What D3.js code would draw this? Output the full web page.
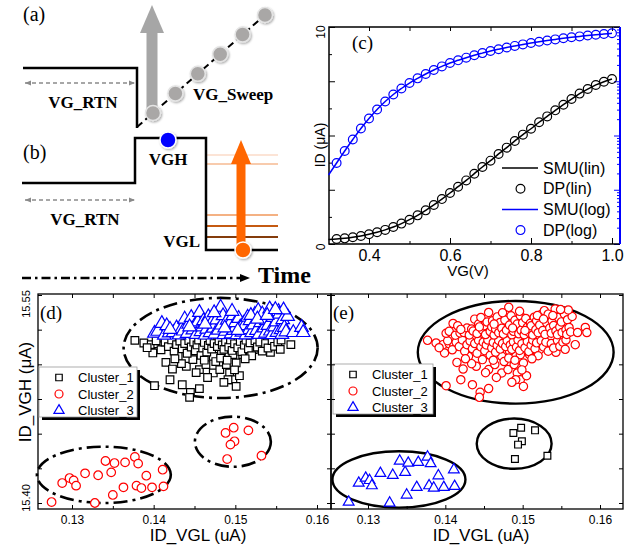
<!DOCTYPE html>
<html lang="en">
<head>
  <meta charset="UTF-8">
  <title>RTN clustering figure</title>
  <style>
    body { margin: 0; background: #fff; }
    svg { display: block; }
  </style>
</head>
<body>
  <div id="chart"></div>
  <script src="https://d3js.org/d3.v7.min.js"></script>
  <script>
// ---------------- data ----------------
// (c) ID-VG sweep, lin and log readings
const vgC = [0.30, 0.32, 0.34, 0.36, 0.38, 0.40, 0.42, 0.44, 0.46, 0.48, 0.50, 0.52,
  0.54, 0.56, 0.58, 0.60, 0.62, 0.64, 0.66, 0.68, 0.70, 0.72, 0.74, 0.76, 0.78, 0.80,
  0.82, 0.84, 0.86, 0.88, 0.90, 0.92, 0.94, 0.96, 0.98, 1.00]
const idLinC = [0.21, 0.23, 0.26, 0.31, 0.37, 0.45, 0.54, 0.65, 0.78, 0.94, 1.12, 1.32,
  1.55, 1.80, 2.07, 2.35, 2.64, 2.93, 3.24, 3.55, 3.84, 4.15, 4.44, 4.75, 5.04, 5.31,
  5.61, 5.88, 6.16, 6.42, 6.68, 6.93, 7.14, 7.33, 7.48, 7.60]
const idLogC = [0.0187, 0.0311, 0.0518, 0.0844, 0.135, 0.206, 0.302, 0.423, 0.570, 0.735,
  0.928, 1.13, 1.36, 1.61, 1.88, 2.17, 2.43, 2.72, 3.01, 3.30, 3.61, 3.90, 4.19, 4.48,
  4.78, 5.07, 5.36, 5.64, 5.91, 6.19, 6.46, 6.71, 6.97, 7.21, 7.43, 7.65]
const legendC = ['SMU(lin)', 'DP(lin)', 'SMU(log)', 'DP(log)']
const xTicksC = [0.4, 0.6, 0.8, 1.0]
const xMinorC = [0.3, 0.5, 0.7, 0.9]
const yTicksC = [0, 2.5, 5, 7.5, 10]
const yMinorC = [1.25, 3.75, 6.25, 8.75]
const yLabelsC = [0, 10]

// (d)/(e) ID_VGL vs ID_VGH points
// big cloud, lower part (Cluster_1 in d)
const cloudLow = [[0.1377,15.5173],[0.1388,15.5154],[0.1397,15.5142],[0.1405,15.5149],[0.1411,15.5135],[0.1399,15.5082],
  [0.1415,15.5014],[0.1423,15.4966],[0.1420,15.4889],[0.1401,15.4846],[0.1435,15.4853],[0.1445,15.4798],
  [0.1456,15.4825],[0.1444,15.4762],[0.1430,15.5058],[0.1440,15.4986],[0.1448,15.5034],[0.1456,15.4962],
  [0.1464,15.4998],[0.1473,15.4938],[0.1481,15.4962],[0.1489,15.4998],[0.1493,15.4938],[0.1497,15.4889],
  [0.1491,15.4889],[0.1501,15.4841],[0.1505,15.4918],[0.1473,15.5058],[0.1483,15.5094],[0.1497,15.5070],
  [0.1509,15.5070],[0.1522,15.5106],[0.1534,15.5130],[0.1542,15.5142],[0.1543,15.5087],[0.1568,15.5142],
  [0.1392,15.5120],[0.1403,15.5170],[0.1409,15.5105],[0.1414,15.5160],[0.1418,15.5128],[0.1422,15.5176],
  [0.1425,15.5095],[0.1428,15.5142],[0.1432,15.5168],[0.1435,15.5112],[0.1438,15.5150],[0.1441,15.5080],
  [0.1443,15.5172],[0.1446,15.5125],[0.1449,15.5160],[0.1451,15.5098],[0.1453,15.5140],[0.1455,15.5175],
  [0.1458,15.5065],[0.1460,15.5118],[0.1462,15.5158],[0.1465,15.5088],[0.1467,15.5136],[0.1469,15.5172],
  [0.1471,15.5110],[0.1474,15.5150],[0.1476,15.5020],[0.1478,15.5128],[0.1480,15.5170],[0.1482,15.5045],
  [0.1484,15.5140],[0.1486,15.5108],[0.1488,15.5162],[0.1490,15.5030],[0.1492,15.5125],[0.1494,15.5176],
  [0.1496,15.5100],[0.1499,15.5148],[0.1501,15.5010],[0.1503,15.5120],[0.1506,15.5165],[0.1508,15.5092],
  [0.1511,15.5138],[0.1513,15.5174],[0.1516,15.5112],[0.1518,15.5155],[0.1520,15.5062],[0.1524,15.5170],
  [0.1527,15.5125],[0.1530,15.5160],[0.1533,15.5095],[0.1537,15.5150],[0.1540,15.5118],[0.1545,15.5172],
  [0.1548,15.5130],[0.1552,15.5160],[0.1555,15.5108],[0.1556,15.5175],[0.1434,15.5005],[0.1452,15.4940],
  [0.1466,15.4905],[0.1486,15.4870],[0.1462,15.5030],[0.1426,15.5040],[0.1499,15.4960],[0.1512,15.5040]]
// big cloud, upper part (Cluster_3 in d)
const cloudHigh = [[0.1401,15.5224],[0.1405,15.5238],[0.1410,15.5295],[0.1413,15.5210],[0.1416,15.5278],[0.1419,15.5226],
  [0.1424,15.5229],[0.1428,15.5262],[0.1431,15.5212],[0.1434,15.5254],[0.1436,15.5240],[0.1438,15.5326],
  [0.1441,15.5222],[0.1443,15.5290],[0.1446,15.5338],[0.1448,15.5248],[0.1450,15.5278],[0.1452,15.5215],
  [0.1454,15.5305],[0.1456,15.5374],[0.1458,15.5236],[0.1460,15.5270],[0.1461,15.5314],[0.1463,15.5211],
  [0.1465,15.5254],[0.1467,15.5342],[0.1469,15.5228],[0.1471,15.5302],[0.1473,15.5260],[0.1475,15.5218],
  [0.1477,15.5320],[0.1479,15.5246],[0.1482,15.5411],[0.1483,15.5283],[0.1485,15.5350],[0.1486,15.5213],
  [0.1488,15.5238],[0.1490,15.5318],[0.1491,15.5264],[0.1493,15.5290],[0.1495,15.5220],[0.1497,15.5350],
  [0.1498,15.5245],[0.1500,15.5300],[0.1502,15.5214],[0.1504,15.5331],[0.1506,15.5268],[0.1508,15.5232],
  [0.1510,15.5296],[0.1511,15.5278],[0.1513,15.5212],[0.1515,15.5340],[0.1517,15.5250],[0.1518,15.5314],
  [0.1520,15.5228],[0.1522,15.5284],[0.1524,15.5360],[0.1526,15.5244],[0.1528,15.5387],[0.1529,15.5216],
  [0.1531,15.5300],[0.1533,15.5362],[0.1535,15.5262],[0.1537,15.5225],[0.1538,15.5314],[0.1540,15.5280],
  [0.1542,15.5399],[0.1543,15.5240],[0.1545,15.5214],[0.1546,15.5338],[0.1548,15.5270],[0.1550,15.5306],
  [0.1551,15.5230],[0.1553,15.5380],[0.1554,15.5362],[0.1556,15.5250],[0.1557,15.5216],[0.1558,15.5322],
  [0.1560,15.5266],[0.1562,15.5234],[0.1564,15.5345],[0.1571,15.5229],[0.1581,15.5266],[0.1583,15.5229],
  [0.1444,15.5270],[0.1474,15.5372],[0.1496,15.5382],[0.1519,15.5352],[0.1503,15.5244],[0.1487,15.5262],
  [0.1463,15.5290],[0.1527,15.5326],[0.1539,15.5352],[0.1420,15.5252],[0.1559,15.5392],[0.1549,15.5395]]
// small group at right-middle
const groupMid = [[0.1488,15.4505],[0.1498,15.4543],[0.1516,15.4524],[0.1499,15.4445],
  [0.1494,15.4421],[0.1490,15.4317],[0.1532,15.4341]]
// small group at lower-left
const groupLow = [[0.1275,15.4007],[0.1288,15.4144],[0.1297,15.4180],[0.1302,15.4163],[0.1305,15.4125],
  [0.1316,15.4214],[0.1328,15.4000],[0.1332,15.4200],[0.1341,15.4303],[0.1348,15.4221],[0.1352,15.4288],
  [0.1350,15.4058],[0.1363,15.4113],[0.1365,15.4293],[0.1377,15.4332],[0.1381,15.4284],[0.1379,15.4125],
  [0.1385,15.4108],[0.1391,15.4197],[0.1398,15.4113],[0.1411,15.4240],[0.1412,15.4120]]
// ellipses [cx, cy, rx, ry] in data units
const ellipsesD = [[0.1482, 15.5118, 0.01188, 0.0361], [0.1497, 15.4442, 0.00465, 0.0181], [0.1339, 15.4203, 0.0082, 0.0203]]
const ellipsesE = [[0.1491, 15.5087, 0.01266, 0.0370], [0.1489, 15.4428, 0.00484, 0.0181], [0.1340, 15.4170, 0.0086, 0.0203]]
const clusterNames = ['Cluster_1', 'Cluster_2', 'Cluster_3']
const xTicksDE = [0.13, 0.14, 0.15, 0.16]
const xMinorDE = [0.135, 0.145, 0.155]
const yTicksDE = [15.40, 15.425, 15.45, 15.475, 15.50, 15.525, 15.55]
const yLabelsDE = [15.40, 15.55]

// ---------------- setup ----------------
const SANS = '"Liberation Sans", Arial, sans-serif'
const SERIF = '"Liberation Serif", "Times New Roman", serif'

const svg = d3.select('#chart').append('svg')
  .attr('width', 639).attr('height', 545)
  .style('background', '#fff')

const defs = svg.append('defs')
defs.append('filter').attr('id', 'shadow')
  .attr('x', '-30%').attr('y', '-30%').attr('width', '160%').attr('height', '160%')
  .append('feDropShadow').attr('dx', 1).attr('dy', 1.2).attr('stdDeviation', 1)
  .attr('flood-color', '#000').attr('flood-opacity', 0.35)
defs.append('marker').attr('id', 'gray-head')
  .attr('viewBox', '0 0 6 6').attr('refX', 6).attr('refY', 3)
  .attr('markerWidth', 6).attr('markerHeight', 6)
  .attr('markerUnits', 'userSpaceOnUse').attr('orient', 'auto-start-reverse')
  .append('path').attr('d', 'M0,0.5 L6,3 L0,5.5 Z').attr('fill', '#8a8a8a')

function tickGroup(axis, tx, ty, color) {
  const g = svg.append('g').attr('transform', `translate(${tx},${ty})`).call(axis)
  g.select('.domain').remove()
  g.selectAll('line').attr('stroke', color || '#000').attr('stroke-width', 1)
  return g
}

// ---------------- (a) / (b) schematic ----------------
const sch = svg.append('g').attr('fill', 'none')

function label(x, y, txt, size, anchor, bold, font) {
  svg.append('text').attr('x', x).attr('y', y).text(txt)
    .attr('font-family', font || SERIF).attr('font-size', size)
    .attr('font-weight', bold ? 'bold' : 'normal')
    .attr('text-anchor', anchor || 'start')
}

label(23, 21, '(a)', 20)
label(23, 159, '(b)', 20)

// (a) waveform
sch.append('path').attr('d', 'M23,68 H137 V128').attr('stroke', '#000').attr('stroke-width', 2.5)
sch.append('line').attr('x1', 137).attr('y1', 127).attr('x2', 265).attr('y2', 15)
  .attr('stroke', '#000').attr('stroke-width', 2).attr('stroke-dasharray', '7,4')

// gray sweep arrow
sch.append('rect').attr('x', 146.5).attr('y', 30).attr('width', 11).attr('height', 84).attr('fill', '#a6a6a6')
sch.append('path').attr('d', 'M140,33 L152,5 L164,33 Z').attr('fill', '#a6a6a6')

const sweepSteps = [0, 1, 2, 3, 4, 5]
const sx = d3.scaleLinear().domain([0, 5]).range([153, 265])
const sy = d3.scaleLinear().domain([0, 5]).range([113, 15])
sch.selectAll('circle.sw').data(sweepSteps).join('circle')
  .attr('cx', d => sx(d)).attr('cy', d => sy(d)).attr('r', 7.5)
  .attr('fill', '#a9a7a6').attr('stroke', '#e4e4e4').attr('stroke-width', 1.5)
  .attr('filter', 'url(#shadow)')

// VG_RTN dashed arrows
;[83, 200].forEach(y => {
  sch.append('line').attr('x1', 25).attr('x2', 135).attr('y1', y).attr('y2', y)
    .attr('stroke', '#8a8a8a').attr('stroke-width', 1.5).attr('stroke-dasharray', '4,3')
    .attr('marker-start', 'url(#gray-head)').attr('marker-end', 'url(#gray-head)')
})
label(83, 108, 'VG_RTN', 17, 'middle', true)
label(85, 225, 'VG_RTN', 17, 'middle', true)
label(193, 100, 'VG_Sweep', 17, 'start', true)

// (b) waveform with VGL levels
const vglLevels = [
  { y: 155, c: '#fce4d6' }, { y: 164, c: '#f8cbad' }, { y: 215, c: '#f4b183' },
  { y: 226, c: '#c55a11' }, { y: 237, c: '#843c0c' }]
sch.selectAll('line.lvl').data(vglLevels).join('line')
  .attr('x1', 207).attr('x2', 278).attr('y1', d => d.y).attr('y2', d => d.y)
  .attr('stroke', d => d.c).attr('stroke-width', 2.2)
sch.append('path').attr('d', 'M22,183 H135 V138 H206 V250 H278').attr('stroke', '#000').attr('stroke-width', 2.5)

// orange VGL arrow
sch.append('rect').attr('x', 236.5).attr('y', 160).attr('width', 9).attr('height', 88).attr('fill', '#ff6600')
sch.append('path').attr('d', 'M231,164 L241,140 L251,164 Z').attr('fill', '#ff6600')
sch.append('circle').attr('cx', 243).attr('cy', 250).attr('r', 8)
  .attr('fill', '#ff6600').attr('stroke', '#fff').attr('stroke-width', 1.5).attr('filter', 'url(#shadow)')
sch.append('circle').attr('cx', 168).attr('cy', 140).attr('r', 8)
  .attr('fill', '#0000ff').attr('stroke', '#fff').attr('stroke-width', 1.5).attr('filter', 'url(#shadow)')
label(168, 165, 'VGH', 17, 'middle', true)
label(200, 247, 'VGL', 17, 'end', true)

// Time arrow
sch.append('line').attr('x1', 22).attr('x2', 241).attr('y1', 278).attr('y2', 278)
  .attr('stroke', '#000').attr('stroke-width', 2.5).attr('stroke-dasharray', '9,4,2.5,4')
sch.append('path').attr('d', 'M240,274 L250,278 L240,282 Z').attr('fill', '#000')
label(258, 283, 'Time', 24, 'start', true)

// ---------------- (c) ID-VG ----------------
const xC = d3.scaleLinear().domain([0.4, 1.0]).range([369, 612])
const yC = d3.scaleLinear().domain([0, 10]).range([244, 27])
const yCLog = d3.scaleLog().domain([1e-3, 10]).range([244, 27])
const fC = { x0: 329, x1: 620, y0: 27, y1: 244 }

tickGroup(d3.axisBottom(xC).tickValues(xTicksC).tickSize(-6).tickPadding(6).tickFormat(d3.format('.1f')), 0, fC.y1)
  .selectAll('text').attr('font-family', SANS).attr('font-size', 16).attr('fill', '#000')
tickGroup(d3.axisBottom(xC).tickValues(xMinorC.slice(1)).tickSize(-3).tickFormat(''), 0, fC.y1)
tickGroup(d3.axisTop(xC).tickValues(xTicksC.concat(xMinorC.slice(1))).tickSize(-4).tickFormat(''), 0, fC.y0)
tickGroup(d3.axisLeft(yC).tickValues(yTicksC).tickSize(-6).tickFormat(''), fC.x0, 0)
tickGroup(d3.axisLeft(yC).tickValues(yMinorC).tickSize(-3).tickFormat(''), fC.x0, 0)
const logTicks = yCLog.ticks()
tickGroup(d3.axisRight(yCLog).tickValues(logTicks.filter(d => Math.abs(Math.log10(d) % 1) < 1e-9)).tickSize(-6).tickFormat(''), fC.x1, 0, '#0000ff')
tickGroup(d3.axisRight(yCLog).tickValues(logTicks.filter(d => Math.abs(Math.log10(d) % 1) > 1e-9)).tickSize(-3).tickFormat(''), fC.x1, 0, '#0000ff')

svg.append('path').attr('d', `M${fC.x1},${fC.y0} H${fC.x0} V${fC.y1} H${fC.x1}`)
  .attr('fill', 'none').attr('stroke', '#000').attr('stroke-width', 1.5)
svg.append('line').attr('x1', fC.x1).attr('x2', fC.x1).attr('y1', fC.y0).attr('y2', fC.y1)
  .attr('stroke', '#0000ff').attr('stroke-width', 2)

svg.selectAll('text.ylc').data(yLabelsC).join('text')
  .attr('transform', d => `translate(325,${yC(d) + (d === 0 ? 3 : 5)}) rotate(-90)`)
  .attr('text-anchor', 'middle').attr('font-family', SANS).attr('font-size', 12)
  .text(d => d)
svg.append('text').attr('transform', 'translate(325,145) rotate(-90)')
  .attr('text-anchor', 'middle').attr('font-family', SANS).attr('font-size', 14).text('ID (μA)')
svg.append('text').attr('x', 468).attr('y', 276).attr('text-anchor', 'middle')
  .attr('font-family', SANS).attr('font-size', 15).text('VG(V)')
label(352, 49, '(c)', 19)

const ptsC = vgC.map((v, i) => ({ vg: v, lin: idLinC[i], log: idLogC[i] }))
const lineLin = d3.line().x(d => xC(d.vg)).y(d => yC(d.lin)).curve(d3.curveMonotoneX)
const lineLog = d3.line().x(d => xC(d.vg)).y(d => yCLog(d.log)).curve(d3.curveMonotoneX)
svg.append('path').datum(ptsC).attr('d', lineLin).attr('fill', 'none').attr('stroke', '#000').attr('stroke-width', 1.5)
svg.append('path').datum(ptsC).attr('d', lineLog).attr('fill', 'none').attr('stroke', '#0000ff').attr('stroke-width', 1.5)
svg.append('g').selectAll('circle').data(ptsC.slice(1)).join('circle')
  .attr('cx', d => xC(d.vg)).attr('cy', d => yC(d.lin)).attr('r', 4.4)
  .attr('fill', 'none').attr('stroke', '#000').attr('stroke-width', 1.2)
svg.append('g').selectAll('circle').data(ptsC.slice(1)).join('circle')
  .attr('cx', d => xC(d.vg)).attr('cy', d => yCLog(d.log)).attr('r', 4.4)
  .attr('fill', 'none').attr('stroke', '#0000ff').attr('stroke-width', 1.2)

// legend (c)
const legC = svg.append('g').attr('font-family', SANS).attr('font-size', 16)
legendC.forEach((name, i) => {
  const y = 168 + i * 20.7
  const color = i < 2 ? '#000' : '#0000ff'
  if (i % 2 === 0) {
    legC.append('line').attr('x1', 502).attr('x2', 538).attr('y1', y).attr('y2', y)
      .attr('stroke', color).attr('stroke-width', 1.5)
  } else {
    legC.append('circle').attr('cx', 520.5).attr('cy', y).attr('r', 4.4)
      .attr('fill', 'none').attr('stroke', color).attr('stroke-width', 1.2)
  }
  legC.append('text').attr('x', 543).attr('y', y + 5.5).text(name)
})

// ---------------- (d) / (e) clustering ----------------
const yDE = d3.scaleLinear().domain([15.40, 15.55]).range([503, 295])
const xD = d3.scaleLinear().domain([0.13, 0.16]).range([72, 317])
const xE = d3.scaleLinear().domain([0.13, 0.16]).range([368, 600])

const shapes = { square: d3.symbolSquare, circle: d3.symbolCircle, triangle: d3.symbolTriangle }

function drawScatter(cfg) {
  const { x, x0, x1 } = cfg
  const y0 = 294, y1 = 509
  const g = svg.append('g')

  tickGroup(d3.axisBottom(x).tickValues(xTicksDE).tickSize(-4).tickPadding(6).tickFormat(d3.format('.2f')), 0, y1)
    .selectAll('text').attr('font-family', SANS).attr('font-size', 12).attr('fill', '#000')
  tickGroup(d3.axisBottom(x).tickValues(xMinorDE).tickSize(-3).tickFormat(''), 0, y1)
  tickGroup(d3.axisTop(x).tickValues(xTicksDE.concat(xMinorDE)).tickSize(-4).tickFormat(''), 0, y0)
  tickGroup(d3.axisLeft(yDE).tickValues(yTicksDE).tickSize(-4).tickFormat(''), x0, 0)
  tickGroup(d3.axisRight(yDE).tickValues(yTicksDE).tickSize(-4).tickFormat(''), x1, 0)
  g.append('rect').attr('x', x0).attr('y', y0).attr('width', x1 - x0).attr('height', y1 - y0)
    .attr('fill', 'none').attr('stroke', '#000').attr('stroke-width', 1.3)

  g.selectAll('ellipse').data(cfg.ellipses).join('ellipse')
    .attr('cx', d => x(d[0])).attr('cy', d => yDE(d[1]))
    .attr('rx', d => x(d[0] + d[2]) - x(d[0])).attr('ry', d => yDE(d[1] - d[3]) - yDE(d[1]))
    .attr('fill', 'none').attr('stroke', '#000').attr('stroke-width', cfg.dash ? 2.6 : 2.4)
    .attr('stroke-dasharray', cfg.dash || null)

  cfg.series.forEach(s => {
    const sym = d3.symbol().type(shapes[s.shape]).size(s.size)
    g.append('g').selectAll('path').data(s.pts).join('path')
      .attr('transform', d => `translate(${x(d[0])},${yDE(d[1])})`)
      .attr('d', sym).attr('fill', '#fff').attr('stroke', s.color).attr('stroke-width', 1.2)
  })

  // legend
  const L = cfg.legend
  g.append('rect').attr('x', L.x + 3).attr('y', L.y + 3).attr('width', L.w).attr('height', L.h).attr('fill', '#000')
  g.append('rect').attr('x', L.x).attr('y', L.y).attr('width', L.w).attr('height', L.h)
    .attr('fill', '#fff').attr('stroke', '#999').attr('stroke-width', 0.8)
  const legSeries = [
    { shape: 'square', color: '#000', size: 42 },
    { shape: 'circle', color: '#ff0000', size: 50 },
    { shape: 'triangle', color: '#0000ff', size: 45 }]
  clusterNames.forEach((name, i) => {
    const yy = L.y + 10 + i * 16.5
    g.append('path').attr('transform', `translate(${L.x + 20},${yy + 0.5})`)
      .attr('d', d3.symbol().type(shapes[legSeries[i].shape]).size(legSeries[i].size))
      .attr('fill', '#fff').attr('stroke', legSeries[i].color).attr('stroke-width', 1.2)
    g.append('text').attr('x', L.x + 39).attr('y', yy + 5).text(name)
      .attr('font-family', SANS).attr('font-size', 13)
  })

  svg.append('text').attr('x', cfg.labelX).attr('y', 541).attr('text-anchor', 'middle')
    .attr('font-family', SANS).attr('font-size', 17).text('ID_VGL (uA)')
  label(x0 + 2, 319, cfg.tag, 19)
}

drawScatter({
  x: xD, x0: 38, x1: 331, tag: '(d)', labelX: 198, dash: '14,5,3,5',
  ellipses: ellipsesD,
  series: [
    { pts: cloudLow, shape: 'square', color: '#000', size: 58 },
    { pts: groupMid.concat(groupLow), shape: 'circle', color: '#ff0000', size: 58 },
    { pts: cloudHigh, shape: 'triangle', color: '#0000ff', size: 80 }],
  legend: { x: 39, y: 367, w: 98, h: 50 }
})
drawScatter({
  x: xE, x0: 331, x1: 623, tag: '(e)', labelX: 481, dash: null,
  ellipses: ellipsesE,
  series: [
    { pts: groupMid, shape: 'square', color: '#000', size: 46 },
    { pts: cloudLow.concat(cloudHigh), shape: 'circle', color: '#ff0000', size: 54 },
    { pts: groupLow, shape: 'triangle', color: '#0000ff', size: 50 }],
  legend: { x: 333, y: 364, w: 100, h: 50 }
})

// shared y axis labels for (d)/(e)
svg.selectAll('text.yde').data(yLabelsDE).join('text')
  .attr('transform', d => `translate(30,${yDE(d) + (d > 15.5 ? 9 : -5)}) rotate(-90)`)
  .attr('text-anchor', 'middle').attr('font-family', SANS).attr('font-size', 11)
  .text(d => d.toFixed(2))
svg.append('text').attr('transform', 'translate(31,392) rotate(-90)')
  .attr('text-anchor', 'middle').attr('font-family', SANS).attr('font-size', 17).text('ID_VGH (μA)')
  </script>
</body>
</html>
